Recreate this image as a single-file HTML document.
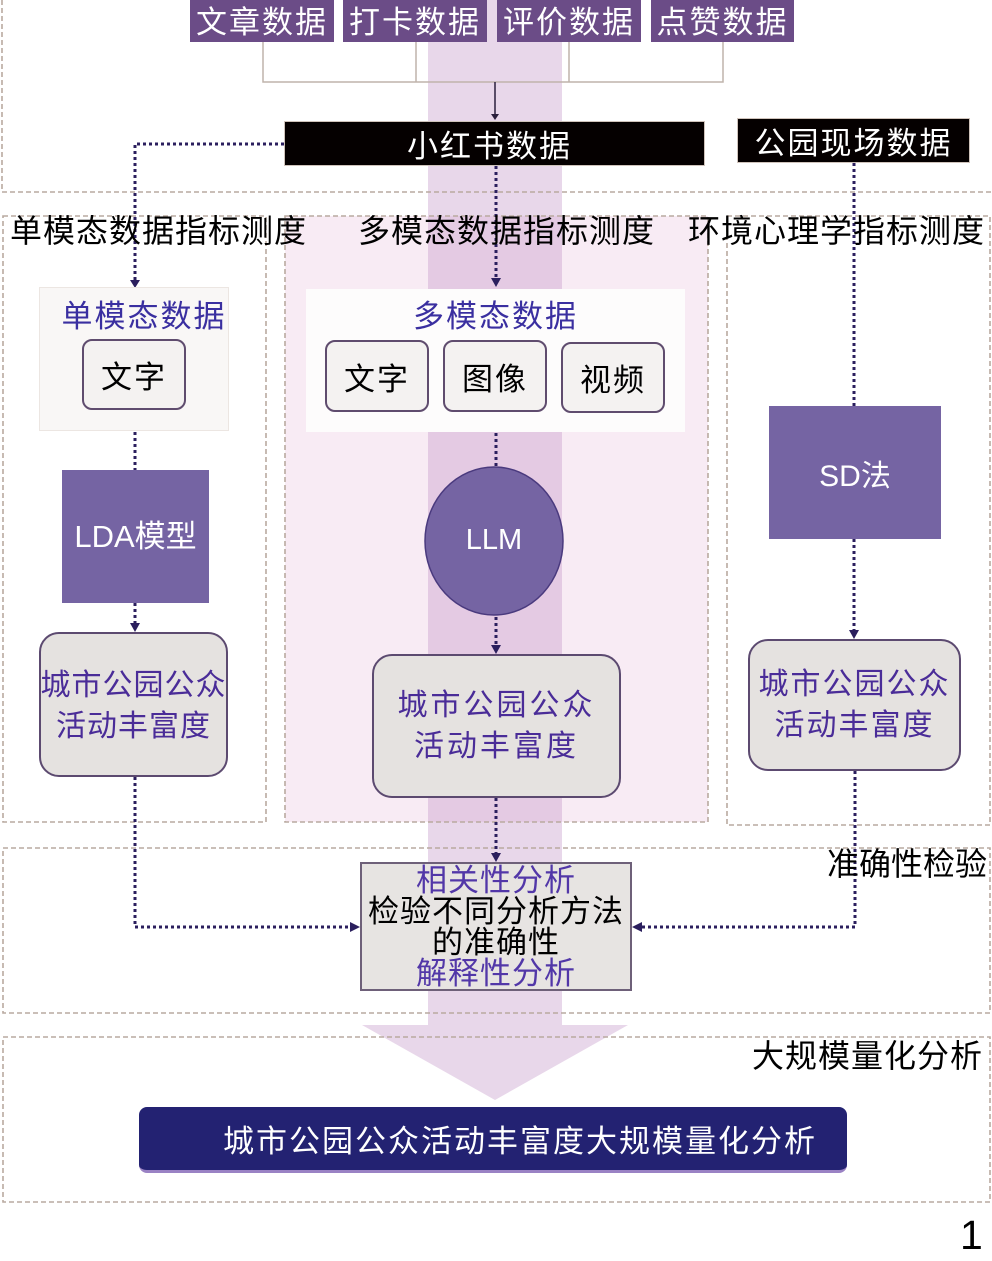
<!DOCTYPE html>
<html><head><meta charset="utf-8"><style>
html,body{margin:0;padding:0;background:#fff;}
body{width:992px;height:1261px;position:relative;overflow:hidden;font-family:"Liberation Sans","Noto Sans CJK SC",sans-serif;}
.a{position:absolute;box-sizing:border-box;}
.c{display:flex;align-items:center;justify-content:center;text-align:center;white-space:nowrap;}
.tb{background:#6b4c87;color:#fff;font-size:31px;letter-spacing:2px;padding-bottom:4px;}
.bk{background:#050000;color:#fff;font-size:31px;letter-spacing:2px;border:1px solid #cfc3bb;}
.pu{background:#7564a3;color:#fff;}
.rb{background:#f4f2f1;border:2px solid #5f4c6e;border-radius:10px;color:#000;font-size:31px;letter-spacing:2px;}
.cb{background:#e5e2e0;border:2px solid #5c4a70;border-radius:20px;color:#4a2c98;font-size:30px;letter-spacing:2px;line-height:41px;flex-direction:column;}
.ti{font-size:32px;letter-spacing:1px;color:#000;white-space:nowrap;line-height:36px;}
</style></head><body>

<svg class="a" style="left:0;top:0" width="992" height="1261" viewBox="0 0 992 1261">
  <rect x="285" y="216" width="423" height="606" fill="#f8ebf4"/>
  <rect x="428" y="0" width="134" height="1025" fill="rgba(195,150,200,0.38)"/>
  <polygon points="362,1025 628,1025 495,1100" fill="rgba(195,150,200,0.38)"/>
  <g fill="none" stroke="#b9aaa0" stroke-width="1.6" stroke-dasharray="5 3">
    <path d="M2,0 V192 H992"/>
    <rect x="3" y="216" width="263" height="606"/>
    <rect x="285" y="216" width="423" height="606"/>
    <rect x="727" y="216" width="263" height="609"/>
    <rect x="3" y="848" width="987" height="165"/>
    <rect x="3" y="1037" width="987" height="165"/>
  </g>
  <g fill="none" stroke="#bfb3ab" stroke-width="1.5">
    <path d="M263,42 V82 H723 V42"/>
    <path d="M416,42 V82"/>
    <path d="M569,42 V82"/>
  </g>
  <path d="M495,82 V116" stroke="#2a1f3c" stroke-width="1.5" fill="none"/>
  <polygon points="491,114 499,114 495,120" fill="#2a1f3c"/>
  <g fill="none" stroke="#2b1f5e" stroke-width="3" stroke-dasharray="3 3">
    <path d="M284,144 H135 V281"/>
    <path d="M496,166 V278"/>
    <path d="M135,432 V470"/>
    <path d="M135,603 V624"/>
    <path d="M135,777 V927 H352"/>
    <path d="M496,433 V466"/>
    <path d="M496,617 V645"/>
    <path d="M496,798 V853"/>
    <path d="M854,163 V406"/>
    <path d="M854,539 V630"/>
    <path d="M855,771 V927 H642"/>
  </g>
  <g fill="#2b1f5e">
    <polygon points="130,280 140,280 135,288"/>
    <polygon points="491,278 501,278 496,287"/>
    <polygon points="130,623 140,623 135,632"/>
    <polygon points="491,645 501,645 496,654"/>
    <polygon points="491,853 501,853 496,862"/>
    <polygon points="849,630 859,630 854,639"/>
    <polygon points="350,922 350,932 360,927"/>
    <polygon points="642,922 642,932 632,927"/>
  </g>
  <ellipse cx="494" cy="541" rx="69" ry="74" fill="#7564a3" stroke="#4a3a7e" stroke-width="1.5"/>
</svg>

<div class="a c tb" style="left:190px;top:0;width:144px;height:42px;">文章数据</div>
<div class="a c tb" style="left:343px;top:0;width:144px;height:42px;">打卡数据</div>
<div class="a c tb" style="left:497px;top:0;width:144px;height:42px;">评价数据</div>
<div class="a c tb" style="left:651px;top:0;width:143px;height:42px;">点赞数据</div>

<div class="a c bk" style="left:284px;top:121px;width:421px;height:45px;padding-right:10px;">小红书数据</div>
<div class="a c bk" style="left:737px;top:118px;width:233px;height:45px;">公园现场数据</div>

<div class="a ti" style="left:10px;top:213px;">单模态数据指标测度</div>
<div class="a ti" style="left:358px;top:213px;">多模态数据指标测度</div>
<div class="a ti" style="left:688px;top:213px;">环境心理学指标测度</div>

<div class="a" style="left:39px;top:287px;width:190px;height:144px;background:#f9f7f6;border:1px solid #ece6e2;"></div>
<div class="a c" style="left:39px;top:294px;width:190px;height:38px;color:#3a2fa0;font-size:31px;letter-spacing:2px;padding-left:20px;">单模态数据</div>
<div class="a c rb" style="left:82px;top:339px;width:104px;height:71px;">文字</div>
<div class="a c pu" style="left:62px;top:470px;width:147px;height:133px;font-size:31px;padding-bottom:6px;">LDA模型</div>
<div class="a c cb" style="left:39px;top:632px;width:189px;height:145px;letter-spacing:1px;padding-top:2px;"><div>城市公园公众</div><div>活动丰富度</div></div>

<div class="a" style="left:306px;top:289px;width:379px;height:143px;background:#fdfcfc;"></div>
<div class="a c" style="left:306px;top:294px;width:379px;height:38px;color:#3a2fa0;font-size:31px;letter-spacing:2px;">多模态数据</div>
<div class="a c rb" style="left:325px;top:340px;width:104px;height:72px;">文字</div>
<div class="a c rb" style="left:443px;top:340px;width:104px;height:72px;">图像</div>
<div class="a c rb" style="left:561px;top:342px;width:104px;height:71px;">视频</div>
<div class="a c" style="left:425px;top:519px;width:138px;height:42px;color:#fff;font-size:29px;">LLM</div>
<div class="a c cb" style="left:372px;top:654px;width:249px;height:144px;letter-spacing:3px;"><div>城市公园公众</div><div>活动丰富度</div></div>

<div class="a c pu" style="left:769px;top:406px;width:172px;height:133px;font-size:30px;">SD法</div>
<div class="a c cb" style="left:748px;top:639px;width:213px;height:132px;"><div>城市公园公众</div><div>活动丰富度</div></div>

<div class="a c" style="left:360px;top:862px;width:272px;height:129px;background:#e7e4e2;border:2px solid #6e6079;flex-direction:column;font-size:31px;line-height:31px;letter-spacing:1px;">
  <div style="color:#5237a8;">相关性分析</div>
  <div style="color:#000;">检验不同分析方法</div>
  <div style="color:#000;">的准确性</div>
  <div style="color:#5237a8;">解释性分析</div>
</div>

<div class="a ti" style="left:827px;top:846px;letter-spacing:0px;">准确性检验</div>
<div class="a ti" style="left:752px;top:1038px;">大规模量化分析</div>

<div class="a c" style="left:139px;top:1107px;width:708px;height:66px;background:#232272;border-radius:8px;border-bottom:3px solid #9a82c4;color:#fff;font-size:31px;letter-spacing:2px;justify-content:flex-start;padding-left:84px;">城市公园公众活动丰富度大规模量化分析</div>

<div class="a" style="left:960px;top:1214px;font-size:41px;line-height:42px;color:#000;">1</div>

</body></html>
